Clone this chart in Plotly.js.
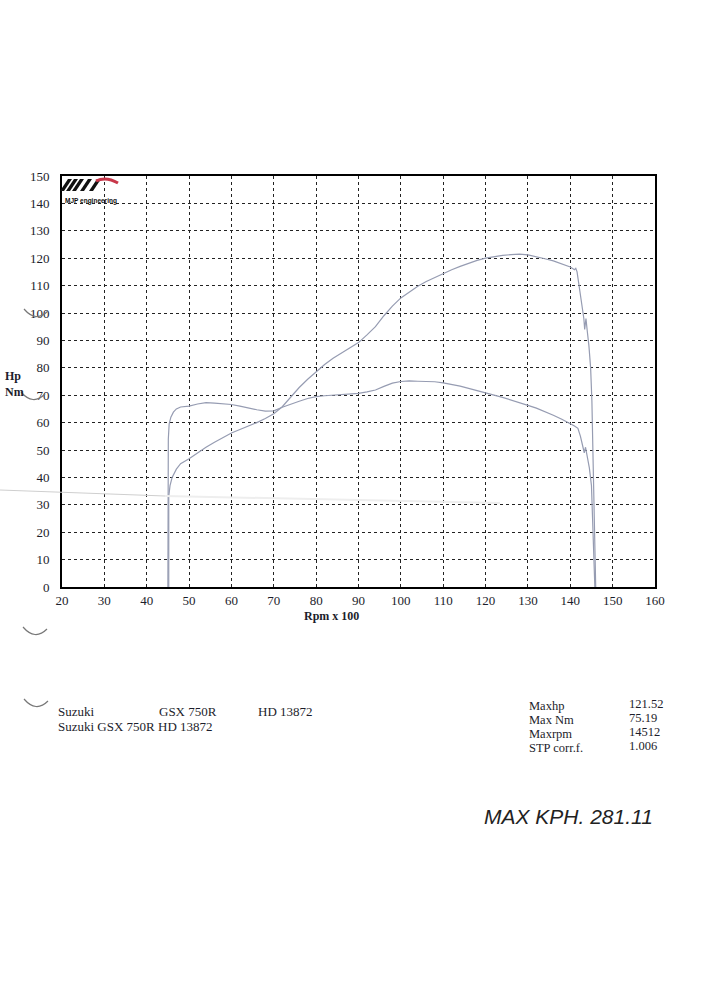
<!DOCTYPE html>
<html>
<head>
<meta charset="utf-8">
<script src="https://cdn.plot.ly/plotly-3.0.1.min.js"></script>
<style>
html,body{margin:0;padding:0;background:#fff;}
#chart{width:728px;height:1001px;}
</style>
</head>
<body>
<div id="chart"></div>
<script>
// ---- data (rpm x 100) ----
var powerRpm = [45.2,45.2,45.5,46,47,48,50,52,54,56,58,60,62,64,66,68,70,72,74,76,78,80,82,84,86,88,90,92,94,96,98,100,102,104,106,108,110,112,114,116,118,120,122,124,126,128,130,132,134,136,138,140,141,141.3,141.6,142,142.6,143.2,143.4,143.7,144,144.4,144.8,145.1,145.4,145.7,146];
var powerHp = [0,33,37,40,43,45,46.8,49,51,52.8,54.5,56.2,57.5,58.7,60,61.5,63.2,65.8,69.5,72.8,75.8,78.5,81.2,83.5,85.5,87.5,89.2,92,95,99,102.5,105.5,107.8,109.8,111.5,113,114.5,115.8,117,118.2,119.2,120,120.6,121,121.3,121.5,121.2,120.6,119.8,119,118,116.8,115.8,116.3,115,111,104,98,94,98,93.5,88,80,68,45,20,0];

var torqueRpm = [45.0,45.1,45.3,45.7,46.3,47,48,50,52,54,56,58,60,62,64,66,68,70,72,74,76,78,80,82,84,86,88,90,92,94,96,98,100,102,104,106,108,110,112,114,116,118,120,122,124,126,128,130,132,134,136,138,140,141,141.8,142.4,143,143.3,143.6,144,144.5,145,145.4,145.8];
var torqueNm = [0,54,59.5,62,63.8,65,65.7,66,66.8,67.3,67.1,66.9,66.6,66,65.3,64.7,64.2,64.3,65.6,66.8,67.8,68.8,69.5,69.8,70,70.2,70.4,70.7,71.2,71.9,73.2,74.4,75,75.2,75.1,75,74.9,74.5,74,73.3,72.5,71.6,70.8,70,69.2,68.3,67.3,66.3,65.3,64.1,62.7,61.2,59.7,58.8,57.9,55,51,49,51,47.5,43.5,37,20,0];

var xTicks = [20,30,40,50,60,70,80,90,100,110,120,130,140,150,160];
var yTicks = [0,10,20,30,40,50,60,70,80,90,100,110,120,130,140,150];

var infoLabels = ["Maxhp","Max Nm","Maxrpm","STP corr.f."];
var infoValues = ["121.52","75.19","14512","1.006"];
var headerLine1 = ["Suzuki","GSX 750R","HD 13872"];
var headerLine2 = "Suzuki GSX 750R HD 13872";
var handNote = "MAX KPH. 281.11";

// ---- geometry helpers (pixel -> paper) ----
var L = 62, R = 655, T = 176, B = 587, W = 728, H = 1001;
function px(x){ return (x - L) / (R - L); }
function py(y){ return (B - y) / (B - T); }

var serif = "Liberation Serif, Times New Roman, serif";
var ink = "#1c1d2b";
var curveColor = "#969cb2";

var traces = [
  {x: powerRpm, y: powerHp, type: "scatter", mode: "lines", name: "Hp",
   line: {color: curveColor, width: 1.2}, hoverinfo: "x+y"},
  {x: torqueRpm, y: torqueNm, type: "scatter", mode: "lines", name: "Nm",
   line: {color: curveColor, width: 1.2}, hoverinfo: "x+y"}
];

var annotations = [];
function addText(text, x, y, size, opts){
  opts = opts || {};
  annotations.push({
    text: text, xref: "paper", yref: "paper", x: px(x), y: py(y),
    xanchor: opts.xanchor || "left", yanchor: "middle", showarrow: false,
    font: {family: opts.family || serif, size: size, color: opts.color || ink},
    align: opts.align || "left"
  });
}
addText("<b>Hp</b><br><b>Nm</b>", 3, 384, 12);
addText("<b>Rpm x 100</b>", 302, 616, 12, {});
addText("<b>MJP engineering</b>", 63, 201, 6.5, {family: "Liberation Sans, Arial, sans-serif", color: "#111"});
var hx = [56, 157, 256];
for (var i = 0; i < headerLine1.length; i++) addText(headerLine1[i], hx[i], 711, 13);
addText(headerLine2, 56, 726, 13);
for (var j = 0; j < infoLabels.length; j++) {
  addText(infoLabels[j], 527, 706 + j * 14, 12.5);
  addText(infoValues[j], 627, 704 + j * 14, 12.5);
}
addText("<i>" + handNote + "</i>", 482, 816, 21, {family: "Liberation Sans, Arial, sans-serif", color: "#222"});

// ---- decorative shapes: logo stripes, punch holes, scan line ----
var shapes = [];
function poly(pts, fill){
  var d = "M" + pts.map(function(p){ return px(p[0]) + "," + py(p[1]); }).join(" L") + " Z";
  shapes.push({type: "path", xref: "paper", yref: "paper", path: d, fillcolor: fill,
               line: {color: fill, width: 0}, layer: "above"});
}
var stripeX = [60, 66, 72, 80, 89];
stripeX.forEach(function(x0){
  poly([[x0, 191], [x0 + 4, 191], [x0 + 12, 179], [x0 + 8, 179]], "#111");
});
shapes.push({type: "path", xref: "paper", yref: "paper",
  path: "M" + px(96) + "," + py(181) + " Q" + px(106) + "," + py(176) + " " + px(118) + "," + py(183),
  line: {color: "#c8374a", width: 3}, layer: "above"});

function arc(cx, cy){
  shapes.push({type: "path", xref: "paper", yref: "paper",
    path: "M" + px(cx - 12) + "," + py(cy - 6) + " Q" + px(cx) + "," + py(cy + 8) + " " + px(cx + 12) + "," + py(cy - 4),
    line: {color: "#777", width: 1.2}});
}
arc(36, 315); arc(33, 398); arc(35, 633); arc(36, 705);
shapes.push({type: "line", xref: "paper", yref: "paper", x0: px(0), y0: py(490), x1: px(165), y1: py(496),
  line: {color: "#cfcfcf", width: 1.2}});
shapes.push({type: "line", xref: "paper", yref: "paper", x0: px(165), y0: py(496), x1: px(500), y1: py(503),
  line: {color: "#eeeeee", width: 2}});

var axisCommon = {
  showline: true, mirror: true, linecolor: "#000", linewidth: 2,
  showgrid: true, gridcolor: "#222", gridwidth: 1, griddash: "dot",
  zeroline: false, tickmode: "array",
  tickfont: {family: serif, size: 13, color: ink},
  fixedrange: true
};

var layout = {
  width: W, height: H, paper_bgcolor: "#fff", plot_bgcolor: "#fff",
  margin: {l: L, r: W - R, t: T, b: H - B, pad: 0},
  showlegend: false,
  xaxis: Object.assign({}, axisCommon, {range: [20, 160], tickvals: xTicks, ticktext: xTicks.map(String),
    ticks: ""}),
  yaxis: Object.assign({}, axisCommon, {range: [0, 150], tickvals: yTicks, ticktext: yTicks.map(String),
    ticks: "outside", ticklen: 8, tickcolor: "rgba(0,0,0,0)"}),
  annotations: annotations,
  shapes: shapes
};

Plotly.newPlot("chart", traces, layout, {displayModeBar: false, staticPlot: true});
</script>
</body>
</html>
